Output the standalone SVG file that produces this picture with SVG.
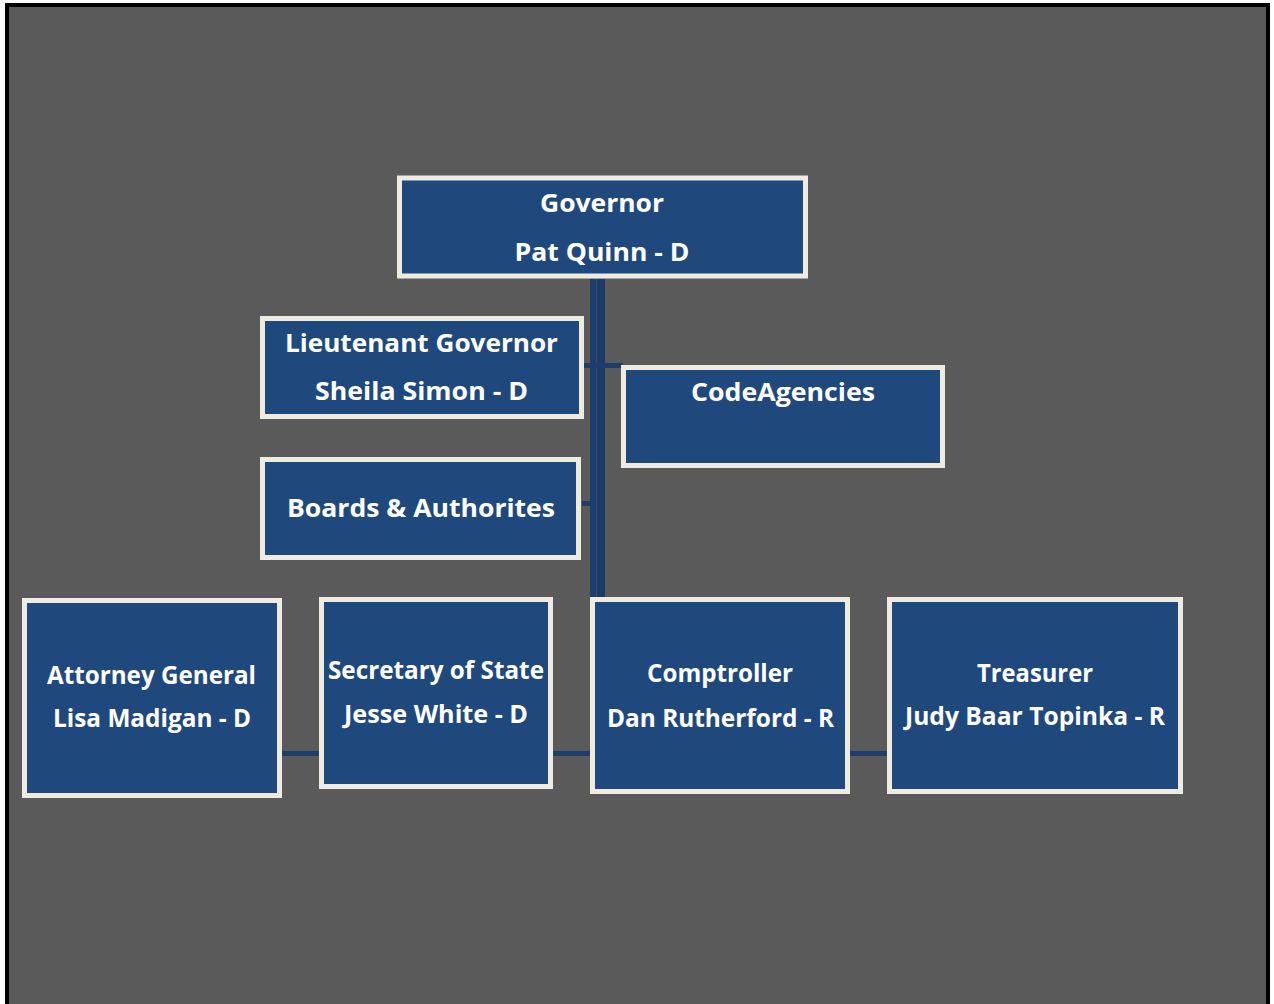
<svg xmlns="http://www.w3.org/2000/svg" width="1274" height="1004" viewBox="0 0 1274 1004">
  <style>
    .node { fill: #1f497d; stroke: #eeece1; stroke-width: 5; }
    .lbl { fill: #ffffff; font-family: "Open Sans", "Noto Sans", "Liberation Sans", sans-serif; font-weight: bold; font-size: 25px; text-anchor: middle; }
    .wire { fill: #1f3d6b; }
    .wire-b { fill: #1c3a66; }
  </style>

  <!-- page frame -->
  <rect x="0" y="0" width="1274" height="1004" fill="#ffffff"/>
  <rect x="7" y="5" width="1261" height="1010" fill="#5a5a5a" stroke="#000000" stroke-width="4"/>

  <!-- connectors -->
  <g id="connectors">
    <rect class="wire" x="590" y="279" width="6" height="320"/>
    <rect class="wire-b" x="596" y="279" width="1" height="320" style="fill:#2a4e80"/>
    <rect class="wire-b" x="597" y="279" width="8" height="320"/>
    <rect class="wire" x="583" y="363" width="40" height="5"/>
    <rect class="wire" x="582" y="501" width="9" height="5"/>
    <rect class="wire" x="280" y="751" width="610" height="5"/>
  </g>

  <g id="governor">
    <rect class="node" x="399.5" y="178" width="406" height="98"/>
    <text class="lbl" x="602" y="212" textLength="124" lengthAdjust="spacingAndGlyphs">Governor</text>
    <text class="lbl" x="602" y="261" textLength="175" lengthAdjust="spacingAndGlyphs">Pat Quinn - D</text>
  </g>

  <g id="lieutenant-governor">
    <rect class="node" x="262.5" y="318.5" width="319" height="98"/>
    <text class="lbl" x="421.5" y="352" textLength="273" lengthAdjust="spacingAndGlyphs">Lieutenant Governor</text>
    <text class="lbl" x="421.5" y="400" textLength="213" lengthAdjust="spacingAndGlyphs">Sheila Simon - D</text>
  </g>

  <g id="code-agencies">
    <rect class="node" x="623.5" y="367.5" width="319" height="98"/>
    <text class="lbl" x="783" y="401" textLength="184" lengthAdjust="spacingAndGlyphs">CodeAgencies</text>
  </g>

  <g id="boards-authorities">
    <rect class="node" x="262.5" y="459.5" width="316" height="98"/>
    <text class="lbl" x="421" y="517" textLength="268" lengthAdjust="spacingAndGlyphs">Boards &amp; Authorites</text>
  </g>

  <g id="attorney-general">
    <rect class="node" x="24.5" y="600.5" width="255" height="195"/>
    <text class="lbl" x="151.5" y="684" textLength="209" lengthAdjust="spacingAndGlyphs">Attorney General</text>
    <text class="lbl" x="152" y="727" textLength="198" lengthAdjust="spacingAndGlyphs">Lisa Madigan - D</text>
  </g>

  <g id="secretary-of-state">
    <rect class="node" x="321.5" y="599.5" width="229" height="187"/>
    <text class="lbl" x="436" y="679" textLength="216" lengthAdjust="spacingAndGlyphs">Secretary of State</text>
    <text class="lbl" x="436" y="723" textLength="184" lengthAdjust="spacingAndGlyphs">Jesse White - D</text>
  </g>

  <g id="comptroller">
    <rect class="node" x="592.5" y="599.5" width="255" height="192"/>
    <text class="lbl" x="720" y="682" textLength="146" lengthAdjust="spacingAndGlyphs">Comptroller</text>
    <text class="lbl" x="720.5" y="727" textLength="227" lengthAdjust="spacingAndGlyphs">Dan Rutherford - R</text>
  </g>

  <g id="treasurer">
    <rect class="node" x="889.5" y="599.5" width="291" height="192"/>
    <text class="lbl" x="1035" y="682" textLength="116" lengthAdjust="spacingAndGlyphs">Treasurer</text>
    <text class="lbl" x="1035" y="725" textLength="260" lengthAdjust="spacingAndGlyphs">Judy Baar Topinka - R</text>
  </g>
</svg>
